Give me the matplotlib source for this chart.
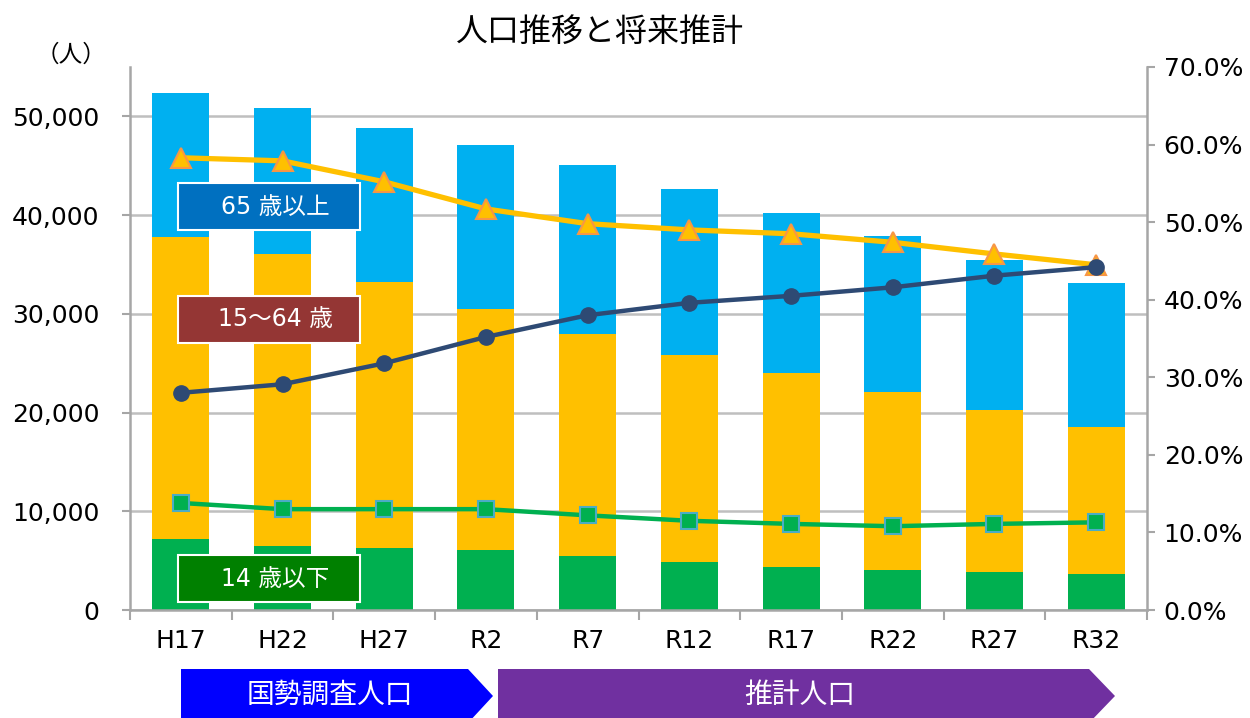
import matplotlib.pyplot as plt
from matplotlib.patches import Rectangle, Polygon
from matplotlib.ticker import FuncFormatter, MultipleLocator

plt.rcParams['font.family'] = ['DejaVu Sans', 'Noto Sans CJK JP']

# data
years = ['H17', 'H22', 'H27', 'R2', 'R7', 'R12', 'R17', 'R22', 'R27', 'R32']
young = [7190, 6480, 6280, 6070, 5470, 4860, 4350, 4050, 3850, 3640]        # 14歳以下
working = [30560, 29550, 26920, 24400, 22470, 20950, 19640, 18020, 16390, 14880]  # 15～64歳
old = [14580, 14780, 15590, 16600, 17100, 16800, 16190, 15780, 15190, 14580]  # 65歳以上

working_pct = [58.3, 57.9, 55.2, 51.7, 49.8, 49.0, 48.5, 47.4, 45.9, 44.5]
old_pct = [28.0, 29.1, 31.8, 35.2, 38.0, 39.6, 40.5, 41.6, 43.1, 44.2]
young_pct = [13.8, 13.0, 13.0, 13.0, 12.2, 11.5, 11.1, 10.8, 11.1, 11.3]

W, H = 1250, 718
fig = plt.figure(figsize=(12.5, 7.18), dpi=100)
ax = fig.add_axes([130 / W, 1 - 610 / H, (1147 - 130) / W, (610 - 67) / H])

x = list(range(len(years)))
bottom2 = [a + b for a, b in zip(young, working)]
ax.bar(x, young, width=0.56, color='#00B050', zorder=2)
ax.bar(x, working, width=0.56, bottom=young, color='#FFC000', zorder=2)
ax.bar(x, old, width=0.56, bottom=bottom2, color='#00B0F0', zorder=2)

ax.set_xlim(-0.5, len(years) - 0.5)
ax.set_ylim(0, 55000)
ax.set_yticks(range(0, 50001, 10000))
ax.yaxis.set_major_formatter(FuncFormatter(lambda v, p: f'{int(v):,}'))
ax.grid(axis='y', color='#BFBFBF', lw=1.8, zorder=0)
ax.set_axisbelow(True)

ax.set_xticks(x)
ax.set_xticklabels(years)
ax.xaxis.set_minor_locator(MultipleLocator(1, offset=0.5))
ax.tick_params(axis='x', which='major', length=0, pad=14, labelsize=18)
ax.tick_params(axis='x', which='minor', length=7, width=1.5, color='#A6A6A6')
ax.tick_params(axis='y', length=6, width=1.5, color='#A6A6A6', pad=16, labelsize=18)

for s in ['top', 'right']:
    ax.spines[s].set_visible(False)
for s in ['left', 'bottom']:
    ax.spines[s].set_color('#A6A6A6')
    ax.spines[s].set_linewidth(1.8)

ax2 = ax.twinx()
ax2.set_ylim(0, 70)
ax2.set_yticks(range(0, 71, 10))
ax2.yaxis.set_major_formatter(FuncFormatter(lambda v, p: f'{v:.1f}%'))
ax2.tick_params(axis='y', length=6, width=1.5, color='#A6A6A6', pad=6, labelsize=18)
for s in ['top', 'left', 'bottom']:
    ax2.spines[s].set_visible(False)
ax2.spines['right'].set_color('#A6A6A6')
ax2.spines['right'].set_linewidth(1.8)

ax2.plot(x, working_pct, color='#FFC000', lw=3.8, marker='^', ms=15,
         mfc='#FFC000', mec='#F79646', mew=1.5, zorder=3)
ax2.plot(x, old_pct, color='#2E4A74', lw=3.2, marker='o', ms=11,
         mfc='#2E4A74', mec='#2E4A74', zorder=4)
ax2.plot(x, young_pct, color='#00B050', lw=3.2, marker='s', ms=11,
         mfc='#00B050', mec='#4BACC6', mew=1.5, zorder=3)

fig.text(600 / W, 1 - 32 / H, '人口推移と将来推計', ha='center', va='center',
         fontsize=23, family=['Noto Sans CJK JP'])
fig.text(71 / W, 1 - 55 / H, '（人）', ha='center', va='center',
         fontsize=17, family=['Noto Sans CJK JP'])

# legend-like label boxes
boxes = [
    (183, '#0070C0', '65 歳以上'),
    (296, '#943634', '15～64 歳'),
    (555, '#008000', '14 歳以下'),
]
for top, col, txt in boxes:
    fig.patches.append(Rectangle((178 / W, 1 - (top + 47) / H), 182 / W, 47 / H,
                                 transform=fig.transFigure, facecolor=col,
                                 edgecolor='white', lw=1.5))
    fig.text(275 / W, 1 - (top + 23.5) / H, txt, ha='center', va='center',
             color='white', fontsize=17)

# period arrows
def arrow(x0, x1, tip, color):
    y0, y1 = 1 - 669 / H, 1 - 723 / H
    ym = (y0 + y1) / 2
    pts = [(x0 / W, y0), (x1 / W, y0), (tip / W, ym), (x1 / W, y1), (x0 / W, y1)]
    fig.patches.append(Polygon(pts, closed=True, transform=fig.transFigure,
                               facecolor=color, edgecolor='none'))

arrow(181, 468, 493, '#0000FF')
arrow(498, 1089, 1115, '#7030A0')
fig.text(330 / W, 1 - 695 / H, '国勢調査人口', ha='center', va='center',
         color='white', fontsize=20, family=['Noto Sans CJK JP'])
fig.text(800 / W, 1 - 695 / H, '推計人口', ha='center', va='center',
         color='white', fontsize=20, family=['Noto Sans CJK JP'])

fig.savefig('out.png', dpi=100)
